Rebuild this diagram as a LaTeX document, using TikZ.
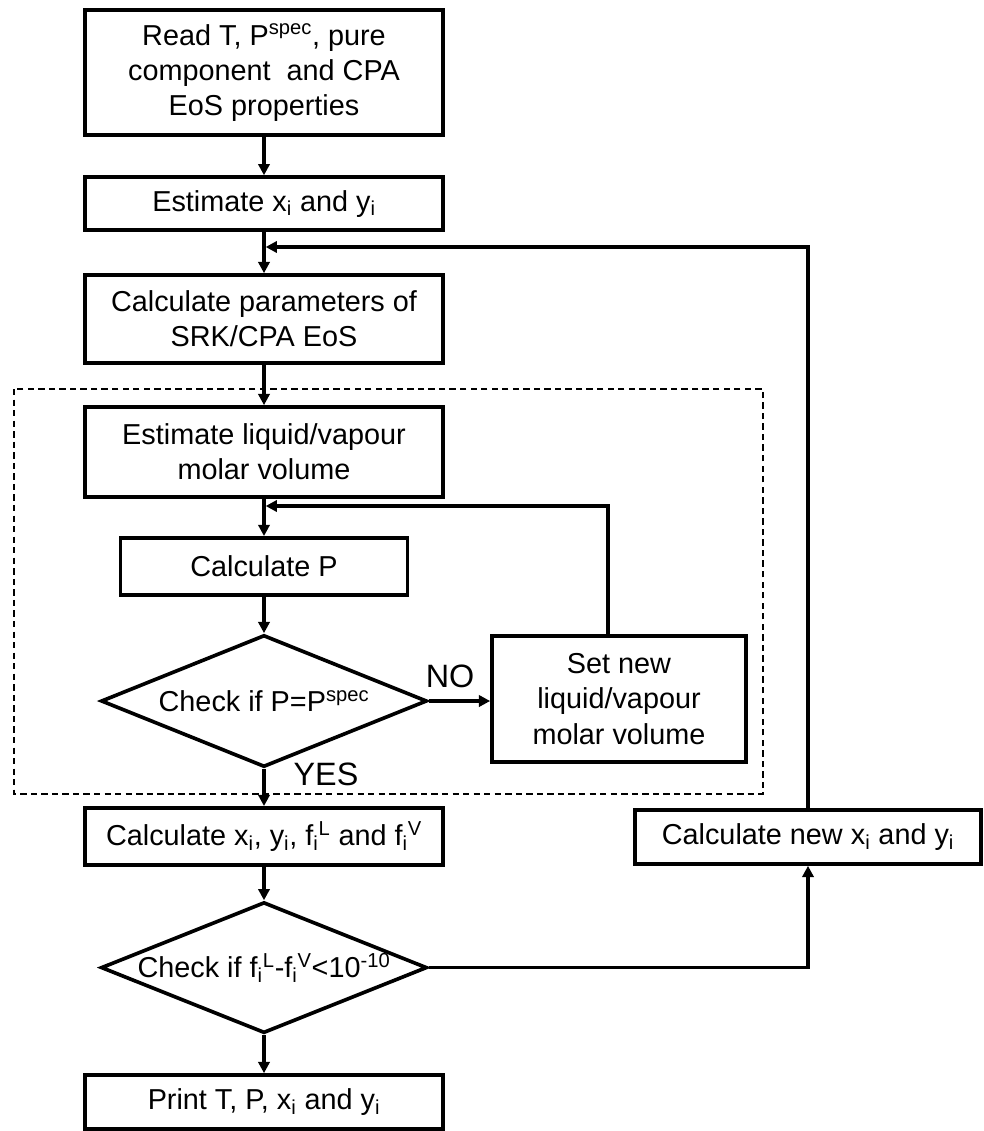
\documentclass[tikz,border=0pt]{standalone}
\usepackage{fontspec}
\setmainfont{Liberation Sans}
\usetikzlibrary{arrows.meta,shapes.geometric}
\newcommand{\ssi}[1]{\textsubscript{i}\textsuperscript{#1}}

\begin{document}
\begin{tikzpicture}[x=1cm, y=1cm,
  font=\fontsize{20.5}{25}\selectfont,
  box/.style={draw, line width=2.6pt, align=center, inner sep=0pt, minimum width=8.95cm},
  decision/.style={draw, diamond, aspect=2.5, line width=2.6pt, inner sep=0pt, minimum width=8.15cm, minimum height=3.3cm},
  answer/.style={font=\fontsize{23}{28}\selectfont},
  arr/.style={-{Triangle[length=8pt,width=8pt]}, line width=2.4pt},
  group/.style={draw, line width=1pt, dash pattern=on 4.5pt off 3pt}]

\useasboundingbox (0,0) rectangle (24.6,-28.275);

\node[box, minimum height=3.125cm] at (6.6,-1.8125) (read)
  {Read T, P\textsuperscript{spec}, pure\\component~ and CPA\\EoS properties};

\node[box, minimum height=1.325cm] at (6.6,-5.09) (init)
  {Estimate x\textsubscript{i} and y\textsubscript{i}};

\node[box, minimum height=2.2cm] at (6.6,-7.975) (params)
  {Calculate parameters of\\SRK/CPA EoS};

\draw[group] (0.35,-9.725) rectangle (19.075,-19.85);

\node[box, minimum height=2.25cm] at (6.6,-11.3) (liq)
  {Estimate liquid/vapour\\molar volume};

\node[box, minimum width=7.175cm, minimum height=1.425cm] at (6.6,-14.16) (calcp)
  {Calculate P};

\node[decision] at (6.6,-17.525) (chkp)
  {Check if P=P\textsuperscript{spec}};

\node[box, minimum width=6.35cm, minimum height=3.15cm] at (15.475,-17.475) (setv)
  {Set new\\liquid/vapour\\molar volume};

\node[box, minimum height=1.425cm] at (6.6,-20.91) (fug)
  {Calculate x\textsubscript{i}, y\textsubscript{i}, f\ssi{L} and f\ssi{V}};

\node[box, minimum width=8.65cm, minimum height=1.35cm] at (20.2,-20.925) (newxy)
  {Calculate new x\textsubscript{i} and y\textsubscript{i}};

\node[decision, minimum width=8.1cm, minimum height=3.275cm] at (6.6,-24.19) (chkf)
  {Check if f\ssi{L}-f\ssi{V}<10\textsuperscript{-10}};

\node[box, minimum height=1.35cm] at (6.6,-27.55) (print)
  {Print T, P, x\textsubscript{i} and y\textsubscript{i}};

\node[answer] at (11.25,-16.9) (no) {NO};
\node[answer] at (8.15,-19.35) (yes) {YES};

\coordinate (loop) at (6.6,-6.175);
\coordinate (inner) at (6.6,-12.65);
\coordinate (vtop) at (15.2,-12.65);

\draw[arr] (read)--(init); \draw[arr] (init)--(params);
\draw[arr] (params)--(liq); \draw[arr] (liq)--(calcp);
\draw[arr] (calcp)--(chkp); \draw[arr] (chkp)--(fug);
\draw[arr] (fug)--(chkf); \draw[arr] (chkf)--(print);
\draw[arr] (chkp.east)--(chkp.east -| setv.west);
\draw[arr, shorten >=1.2pt] (setv.north -| vtop)--(vtop)--(inner);
\draw[arr] (chkf.east) -| (newxy.south);
\draw[arr, shorten >=1.2pt] (newxy.north) |- (loop);
\end{tikzpicture}
\end{document}
